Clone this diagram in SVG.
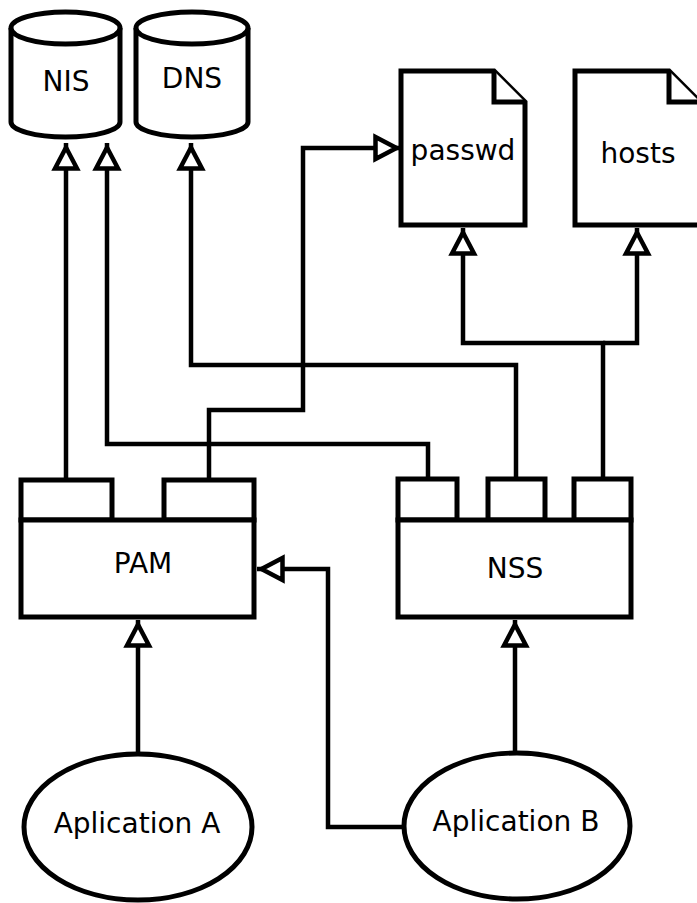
<svg xmlns="http://www.w3.org/2000/svg" width="697" height="903" viewBox="0 0 697 903">
<style>
.shape{fill:#fff;stroke:#000;stroke-width:5;stroke-linejoin:miter}
.conn{fill:none;stroke:#000;stroke-width:4.5;stroke-linejoin:miter}
.lbl{font-family:"DejaVu Sans",sans-serif;font-size:28px;fill:#000;text-anchor:middle}
</style>
<defs>
<marker id="arr" viewBox="-4 -16 34 32" markerWidth="34" markerHeight="32" refX="25.5" refY="0" orient="auto" markerUnits="userSpaceOnUse" overflow="visible">
<path d="M0,-11 L21,0 L0,11 Z" fill="#fff" stroke="#000" stroke-width="4.5" stroke-linejoin="miter"/>
</marker>
</defs>
<rect width="697" height="903" fill="#fff"/>
<g id="connectors">
<path class="conn" d="M66,480 V143" marker-end="url(#arr)"/>
<path class="conn" d="M428,479 V444 H107 V143" marker-end="url(#arr)"/>
<path class="conn" d="M516,479 V365 H191 V143" marker-end="url(#arr)"/>
<path class="conn" d="M209,480 V410 H303 V148 H401" marker-end="url(#arr)"/>
<path class="conn" d="M603,479 V343 H463 V228" marker-end="url(#arr)"/>
<path class="conn" d="M603,343 H637 V228" marker-end="url(#arr)"/>
<path class="conn" d="M404,827 H328 V569 H257" marker-end="url(#arr)"/>
<path class="conn" d="M138,754 V620" marker-end="url(#arr)"/>
<path class="conn" d="M515,753 V620" marker-end="url(#arr)"/>
</g>
<g id="nis">
<path class="shape" d="M11,28 V122 A54.5,15 0 0 0 120,122 V28 A54.5,16 0 0 0 11,28 Z"/>
<path class="shape" d="M11,28 A54.5,16 0 0 0 120,28"/>
<text class="lbl" x="66" y="91">NIS</text>
</g>
<g id="dns">
<path class="shape" d="M136,28 V122 A56,15 0 0 0 248,122 V28 A56,16 0 0 0 136,28 Z"/>
<path class="shape" d="M136,28 A56,16 0 0 0 248,28"/>
<text class="lbl" x="192" y="88">DNS</text>
</g>
<g id="passwd">
<path class="shape" d="M401,71 H494 L525,102 V225 H401 Z"/>
<path class="shape" d="M494,71 V102 H525"/>
<text class="lbl" x="463" y="160">passwd</text>
</g>
<g id="hosts">
<path class="shape" d="M575,71 H669 L700,102 V225 H575 Z"/>
<path class="shape" d="M669,71 V102 H700"/>
<text class="lbl" x="638" y="163">hosts</text>
</g>
<g id="pam">
<rect class="shape" x="21" y="480" width="91" height="40"/>
<rect class="shape" x="164" y="480" width="90" height="40"/>
<rect class="shape" x="21" y="520" width="233" height="97"/>
<text class="lbl" x="143" y="573">PAM</text>
</g>
<g id="nss">
<rect class="shape" x="398" y="479" width="59" height="41"/>
<rect class="shape" x="488" y="479" width="57" height="41"/>
<rect class="shape" x="574" y="479" width="57" height="41"/>
<rect class="shape" x="398" y="520" width="233" height="97"/>
<text class="lbl" x="515" y="578">NSS</text>
</g>
<g id="appA">
<ellipse class="shape" cx="138" cy="827" rx="114" ry="73"/>
<text class="lbl" x="137" y="833">Aplication A</text>
</g>
<g id="appB">
<ellipse class="shape" cx="517" cy="826" rx="113" ry="73"/>
<text class="lbl" x="516" y="831">Aplication B</text>
</g>
</svg>
